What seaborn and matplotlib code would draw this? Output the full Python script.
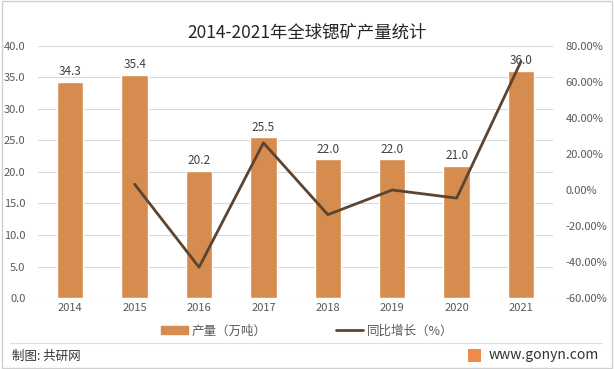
import numpy as np
import pandas as pd
import matplotlib
matplotlib.use("Agg")
import matplotlib.pyplot as plt
import matplotlib.patches as mpatches
from matplotlib.lines import Line2D
import seaborn as sns

# Data
years = ["2014", "2015", "2016", "2017", "2018", "2019", "2020", "2021"]
output = [34.3, 35.4, 20.2, 25.5, 22.0, 22.0, 21.0, 36.0]
growth_years = ["2015", "2016", "2017", "2018", "2019", "2020", "2021"]
growth = [3.2, -42.9, 26.2, -13.7, 0.0, -4.5, 71.4]

bar_color = "#D58C4E"
line_color = "#5C4431"
grid_color = "#D9D9D9"
text_color = "#595959"

sns.set_style("white")
plt.rcParams['font.family'] = ['Noto Sans CJK SC', 'DejaVu Sans']

fig = plt.figure(figsize=(6.14, 3.69), dpi=100)
ax = fig.add_axes([0.062, 0.1924, 0.839, 0.683])

df = pd.DataFrame({"year": years, "output": output})
sns.barplot(data=df, x="year", y="output", color=bar_color, width=0.41,
            saturation=1, ax=ax, zorder=2)
for i, v in enumerate(output):
    ax.text(i, v + 0.6, f"{v:.1f}", ha="center", va="bottom", fontsize=8.5,
            color="#404040", zorder=5)

ax.set_ylim(0, 40)
ax.set_yticks(np.arange(0, 40.1, 5))
ax.set_yticklabels([f"{t:.1f}" for t in np.arange(0, 40.1, 5)])
ax.set_xlim(-0.5, len(years) - 0.5)
ax.set_xlabel("")
ax.set_ylabel("")
ax.grid(axis="y", color=grid_color, linewidth=0.8, zorder=0)
ax.set_axisbelow(True)
for s in ax.spines.values():
    s.set_visible(False)
ax.tick_params(axis="both", length=0, labelsize=8, colors=text_color)
ax.tick_params(axis="y", pad=9)

ax2 = ax.twinx()
gx = [years.index(y) for y in growth_years]
sns.lineplot(x=gx, y=growth, color=line_color, linewidth=2, ax=ax2, zorder=3)
ax2.set_ylim(-60, 80)
ax2.set_yticks(np.arange(-60, 80.1, 20))
ax2.set_yticklabels([f"{t:.2f}%" for t in np.arange(-60, 80.1, 20)])
for s in ax2.spines.values():
    s.set_visible(False)
ax2.tick_params(axis="y", length=0, labelsize=8, colors=text_color, pad=9)
ax2.set_xlim(-0.5, len(years) - 0.5)

fig.text(0.5, 0.913, "2014-2021年全球锶矿产量统计", ha="center", va="center",
         fontsize=12.5, color="#262626")

handles = [mpatches.Patch(color=bar_color, label="产量（万吨）"),
           Line2D([0], [0], color=line_color, linewidth=2, label="同比增长（%）")]
fig.legend(handles=handles, loc="center", bbox_to_anchor=(0.5, 0.103), ncol=2,
           frameon=False, fontsize=9, columnspacing=5.5, handlelength=2.2,
           handletextpad=0.3, labelcolor=text_color)

# frame and footer
fig.add_artist(mpatches.Rectangle((0.003, 0.003), 0.994, 0.994, transform=fig.transFigure,
                                  fill=False, edgecolor="#D0D0D0", linewidth=1))
fig.add_artist(Line2D([0.016, 0.98], [0.07, 0.07], transform=fig.transFigure,
                      color="#E0E0E0", linewidth=0.8))
fig.text(0.02, 0.035, "制图: 共研网", ha="left", va="center", fontsize=9, color="#333333")
fig.add_artist(mpatches.Rectangle((0.762, 0.02), 0.022, 0.035, transform=fig.transFigure,
                                  facecolor="#F08A4B", edgecolor="none"))
fig.text(0.976, 0.037, "www.gonyn.com", ha="right", va="center", fontsize=10, color="#333333")

fig.savefig("out.png", dpi=100)
